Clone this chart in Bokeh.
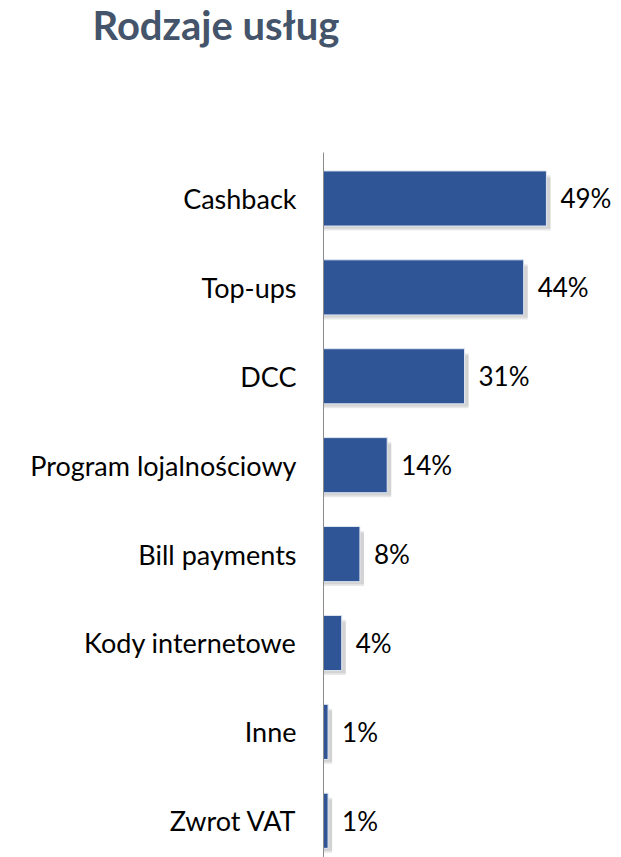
from bokeh.plotting import figure
from bokeh.models import Range1d, ColumnDataSource
from bokeh.core.properties import value
from bokeh.embed import file_html
from bokeh.resources import INLINE

categories = ["Cashback", "Top-ups", "DCC", "Program lojalnościowy", "Bill payments",
              "Kody internetowe", "Inne", "Zwrot VAT"]
values = [49, 44, 31, 14, 8, 4, 1, 1]
value_labels = ["49%", "44%", "31%", "14%", "8%", "4%", "1%", "1%"]
title_text = "Rodzaje usług"

FONT = "Lato"
BAR = "#2F5597"

# layout constants (data units)
X_START, X_END = -71.0, 65.5
Y_BOTTOM, Y_TOP = 7.413, -2.227
AXIS_TOP = -0.517

ys = list(range(len(categories)))
src = ColumnDataSource(dict(y=ys, v=values, lab=value_labels, cat=categories,
                            zero=[0] * len(ys),
                            sh=[v + 0.9 for v in values],
                            ysh=[y + 0.05 for y in ys]))

p = figure(width=621, height=857, output_backend="svg", toolbar_location=None,
           x_range=Range1d(X_START, X_END), y_range=Range1d(Y_BOTTOM, Y_TOP),
           min_border=0)
p.outline_line_color = None
p.grid.visible = False
p.axis.visible = False
p.background_fill_color = "white"
p.border_fill_color = "white"

# shadow
p.hbar(y="ysh", left=0, right="sh", height=0.62, source=src,
       fill_color="#000000", fill_alpha=0.09, line_color=None)
p.hbar(y="ysh", left=0, right="sh", height=0.58, source=src,
       fill_color="#000000", fill_alpha=0.09, line_color=None)
p.hbar(y="y", left=0, right="v", height=0.62, source=src,
       fill_color=BAR, line_color="#dfe6f2", line_width=1)

# category axis line
p.segment(x0=[0], y0=[AXIS_TOP], x1=[0], y1=[Y_BOTTOM], line_color="#8c8c8c", line_width=1)

# category labels
p.text(x="zero", y="y", text="cat", source=src, x_offset=-27,
       text_baseline="middle", text_align="right", text_font=value(FONT),
       text_font_size="27px", text_color="#000000")

# value labels
p.text(x="v", y="y", text="lab", source=src, x_offset=14,
       text_baseline="middle", text_align="left", text_font=value(FONT),
       text_font_size="26px", text_color="#000000")

# title
p.text(x=[X_START], y=[Y_TOP], text=[title_text], x_offset=92, y_offset=24,
       text_baseline="alphabetic", text_align="left", text_font=value(FONT),
       text_font_style="bold", text_font_size="40px", text_color="#44546A")

open("out.html", "w").write(file_html(p, INLINE))
